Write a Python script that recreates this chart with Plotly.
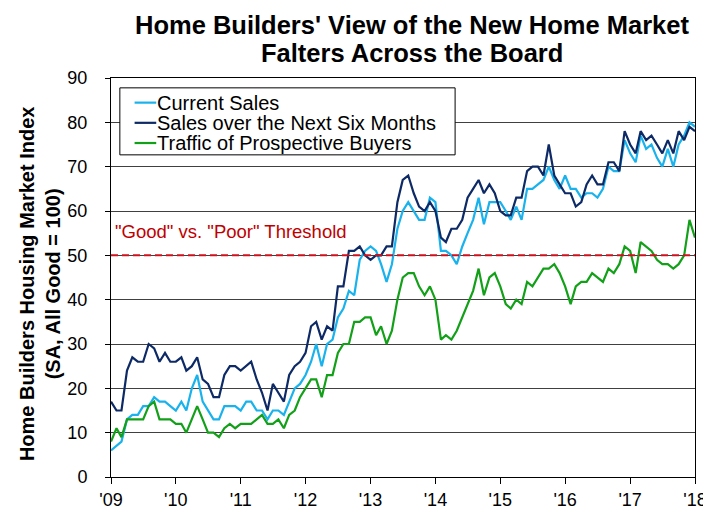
import plotly.graph_objects as go
import pandas as pd

# ---- data (monthly, Jan 2009 - Jan 2018) ----
months = pd.date_range("2009-01-01", periods=109, freq="MS")

current_sales = [
    6, 7, 8, 13, 14, 14, 16, 16, 18, 17, 17, 16,
    15, 17, 15, 20, 23, 17, 15, 13, 13, 16, 16, 16,
    15, 17, 17, 15, 15, 13, 15, 15, 14, 17, 20, 21,
    23, 26, 30, 25, 30, 31, 36, 38, 42, 41, 49, 51,
    52, 51, 48, 44, 48, 56, 60, 62, 60, 58, 58, 63,
    62, 51, 51, 50, 48, 52, 55, 58, 63, 57, 62, 62,
    62, 60, 58, 61, 58, 65, 65, 66, 67, 70, 67, 65,
    68, 65, 65, 63, 64, 64, 63, 65, 70, 69, 69, 76,
    73, 71, 77, 74, 75, 72, 70, 74, 70, 75, 77, 80,
    79,
]
next_six_months = [
    17, 15, 15, 24, 27, 26, 26, 30, 29, 26, 28, 26,
    26, 27, 24, 25, 27, 22, 21, 18, 18, 23, 25, 25,
    24, 25, 26, 22, 19, 15, 21, 19, 17, 23, 25, 26,
    28, 34, 35, 31, 34, 33, 43, 43, 51, 51, 52, 50,
    49, 50, 50, 52, 52, 62, 67, 68, 64, 61, 60, 62,
    60, 54, 53, 56, 56, 58, 63, 65, 67, 64, 66, 64,
    60, 59, 59, 63, 63, 69, 70, 70, 68, 75, 68, 66,
    64, 64, 61, 62, 66, 68, 66, 66, 71, 71, 69, 78,
    75, 73, 78, 76, 77, 75, 73, 76, 73, 78, 76, 79,
    78,
]
traffic = [
    8, 11, 9, 13, 13, 13, 13, 16, 17, 13, 13, 13,
    12, 12, 10, 13, 16, 13, 10, 10, 9, 11, 12, 11,
    12, 12, 12, 13, 14, 12, 12, 13, 11, 14, 15, 18,
    20, 22, 22, 18, 23, 23, 28, 30, 30, 35, 35, 36,
    36, 32, 34, 30, 33, 40, 45, 46, 46, 43, 41, 43,
    40, 31, 32, 31, 33, 36, 39, 42, 47, 41, 45, 46,
    43, 39, 38, 40, 39, 44, 43, 45, 47, 47, 48, 46,
    43, 39, 43, 44, 44, 46, 45, 44, 47, 46, 48, 52,
    51, 46, 53, 52, 51, 49, 48, 48, 47, 48, 50, 58,
    54,
]

series_names = ["Current Sales", "Sales over the Next Six Months", "Traffic of Prospective Buyers"]
series_values = [current_sales, next_six_months, traffic]
series_colors = ["#19B2EC", "#0D2A66", "#13A019"]

threshold = 50
threshold_label = '"Good" vs. "Poor" Threshold'

title_lines = ["Home Builders' View of the New Home Market", "Falters Across the Board"]
y_title = "Home Builders Housing Market Index<br>(SA, All Good = 100)"

year_ticks = pd.date_range("2009-01-01", "2018-01-01", freq="YS")
year_labels = ["'09", "'10", "'11", "'12", "'13", "'14", "'15", "'16", "'17", "'18"]
y_ticks = list(range(0, 100, 10))

FONT = "Liberation Sans, Arial, sans-serif"

# plot-area geometry (pixels)
W, H = 711, 514
L, R, T, B = 103, 14, 70, 39
PW, PH = W - L - R, H - T - B


def pxx(px):
    return (px - L) / PW


def pxy(py):
    return (H - B - py) / PH


fig = go.Figure()
for name, vals, col in zip(series_names, series_values, series_colors):
    fig.add_trace(go.Scatter(x=months, y=vals, mode="lines", name=name,
                             line=dict(color=col, width=2.2), showlegend=False))

# threshold line
fig.add_shape(type="line", xref="paper", yref="y", x0=0, x1=1, y0=threshold, y1=threshold,
              line=dict(color="#D0101C", width=2, dash="7px,4px"), layer="above")
fig.add_annotation(text=threshold_label, xref="paper", yref="y", x=pxx(105), y=threshold,
                   xanchor="left", yanchor="bottom", yshift=11, showarrow=False,
                   font=dict(family=FONT, size=18.5, color="#C00000"))

# legend box (manual)
lx0, lx1, ly0, ly1 = 112, 453, 80, 148
fig.add_shape(type="rect", xref="paper", yref="paper", x0=pxx(lx0), x1=pxx(lx1),
              y0=pxy(ly1), y1=pxy(ly0), line=dict(color="black", width=1),
              fillcolor="white", layer="above")
rows = [95, 115.5, 136]
for name, col, ry in zip(series_names, series_colors, rows):
    fig.add_shape(type="line", xref="paper", yref="paper", x0=pxx(127), x1=pxx(149),
                  y0=pxy(ry), y1=pxy(ry), line=dict(color=col, width=2.2), layer="above")
    fig.add_annotation(text=name, xref="paper", yref="paper", x=pxx(148), y=pxy(ry),
                       xanchor="left", yanchor="middle", showarrow=False,
                       font=dict(family=FONT, size=20, color="black"))

# y-axis title
fig.add_annotation(text="<b>" + y_title + "</b>",
                   xref="paper", yref="paper", x=pxx(31), y=pxy(279), textangle=-90,
                   xanchor="center", yanchor="middle", showarrow=False,
                   font=dict(family=FONT, size=20, color="black"))

# chart title (two lines, tighter spacing)
for line_text, cy in zip(title_lines, [16, 45]):
    fig.add_annotation(text="<b>" + line_text + "</b>",
                       xref="paper", yref="paper", x=pxx(409), y=pxy(cy),
                       xanchor="center", yanchor="middle", showarrow=False,
                       font=dict(family=FONT, size=25.5, color="black"))

fig.update_layout(
    width=W, height=H,
    margin=dict(l=L, r=R, t=T, b=B),
    paper_bgcolor="white", plot_bgcolor="white",
    font=dict(family=FONT, size=18, color="black"),
)
fig.update_xaxes(range=[months[0], months[-1]], tickvals=year_ticks, ticktext=year_labels,
                 ticks="outside", ticklen=6, tickcolor="black", showgrid=False,
                 showline=True, linecolor="black", linewidth=1, mirror=True,
                 tickfont=dict(family=FONT, size=18, color="black"), zeroline=False)
fig.update_yaxes(range=[0, 90], tickvals=y_ticks, ticks="outside", ticklen=5, tickcolor="black",
                 showgrid=True, gridcolor="#404040", gridwidth=1, ticklabelstandoff=14,
                 showline=True, linecolor="black", linewidth=1, mirror=True, zeroline=False,
                 tickfont=dict(family=FONT, size=18, color="black"))

fig.write_html("out.html")
